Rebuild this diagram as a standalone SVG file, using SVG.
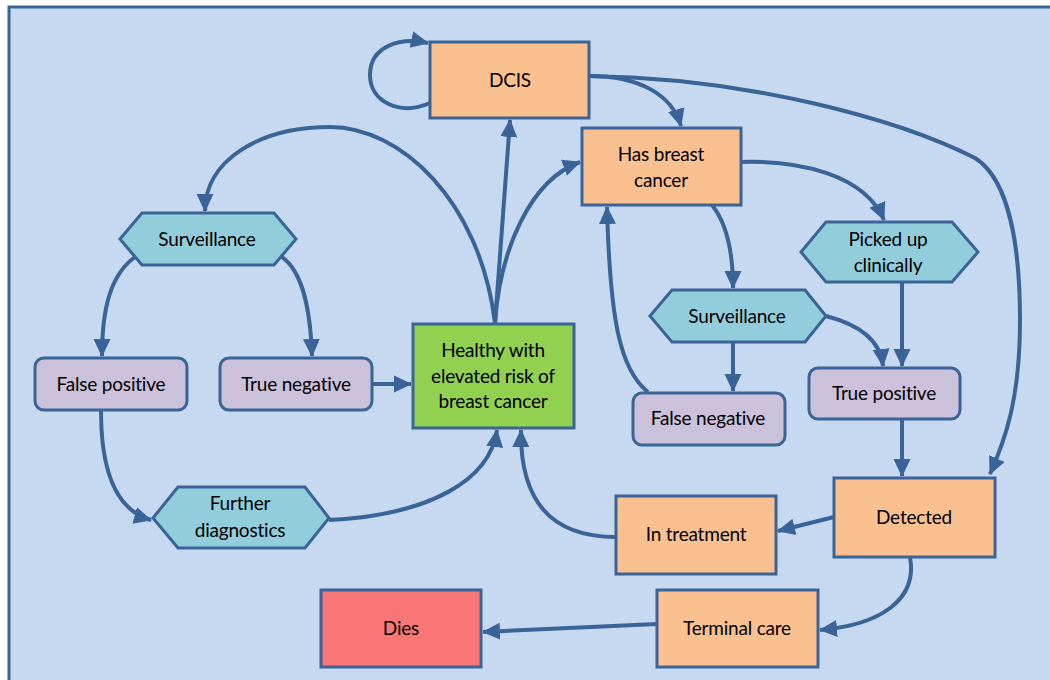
<svg xmlns="http://www.w3.org/2000/svg" width="1050" height="680" viewBox="0 0 1050 680">
  <style>
    .box { stroke: #3a6497; stroke-width: 3; }
    .state { fill: #fac090; }
    .test { fill: #92cddc; }
    .result { fill: #ccc1da; }
    .healthy { fill: #92d050; }
    .dies { fill: #f87676; }
    .lbl { font-family: Lato, "Open Sans", "Liberation Sans", sans-serif; font-size: 19px; fill: #000; text-anchor: middle; letter-spacing: -0.2px; }
    .edge { fill: none; stroke: #3a6497; stroke-width: 4; marker-end: url(#arrow); }
  </style>
  <defs>
    <marker id="arrow" markerUnits="userSpaceOnUse" markerWidth="19" markerHeight="19" viewBox="0 0 19 19" refX="17" refY="9.5" orient="auto">
      <path d="M0,1 L18,9.5 L0,18 Z" fill="#3a6497"/>
    </marker>
  </defs>

  <!-- frame -->
  <rect x="9" y="7" width="1100" height="700" fill="#c6d9f0" stroke="#3a6497" stroke-width="3"/>

  <!-- connectors -->
  <g id="connectors">
    <path class="edge" d="M430,103 C 400,116 370,102 370,75 C 370,46 400,37 428,43"/>
    <path class="edge" d="M495,323 L510,120"/>
    <path class="edge" d="M495,323 C 500,250 530,180 580,162"/>
    <path class="edge" d="M495,323 C 480,200 400,127 330,127 C 260,127 205,160 205,211"/>
    <path class="edge" d="M589,76 C 640,76 672,95 681,126"/>
    <path class="edge" d="M589,76 C 750,78 900,120 975,158 C 1010,180 1020,250 1020,320 C 1020,400 1005,440 990,474"/>
    <path class="edge" d="M741,162 C 800,160 865,175 884,220"/>
    <path class="edge" d="M712,205 C 728,225 733,255 733,288"/>
    <path class="edge" d="M648,392 C 620,370 610,320 607,207"/>
    <path class="edge" d="M733,342 L733,391"/>
    <path class="edge" d="M826,316 C 860,325 880,340 883,366"/>
    <path class="edge" d="M902,282 L902,366"/>
    <path class="edge" d="M902,419 L902,476"/>
    <path class="edge" d="M834,517 L778,531"/>
    <path class="edge" d="M616,537 C 550,537 520,500 521,430"/>
    <path class="edge" d="M910,557 C 918,600 880,625 820,630"/>
    <path class="edge" d="M657,624 L483,632"/>
    <path class="edge" d="M372,384 L411,384"/>
    <path class="edge" d="M135,257 C 110,275 102,310 102,356"/>
    <path class="edge" d="M282,257 C 300,270 310,300 312,356"/>
    <path class="edge" d="M101,411 C 101,470 115,510 151,520"/>
    <path class="edge" d="M329,520 C 430,515 490,480 497,430"/>
  </g>

  <g id="dcis">
    <rect class="box state" x="430" y="42" width="159" height="76"/>
    <text class="lbl" x="510" y="87">DCIS</text>
  </g>
  <g id="has-cancer">
    <rect class="box state" x="582" y="128" width="159" height="77"/>
    <text class="lbl" x="661" y="161">Has breast</text>
    <text class="lbl" x="661" y="187">cancer</text>
  </g>
  <g id="surveillance-healthy">
    <polygon class="box test" points="120,239 142,213 274,213 296,239 274,265 142,265"/>
    <text class="lbl" x="207" y="246">Surveillance</text>
  </g>
  <g id="false-positive">
    <rect class="box result" x="35" y="358" width="152" height="52" rx="9"/>
    <text class="lbl" x="111" y="391">False positive</text>
  </g>
  <g id="true-negative">
    <rect class="box result" x="220" y="358" width="152" height="52" rx="9"/>
    <text class="lbl" x="296" y="391">True negative</text>
  </g>
  <g id="healthy">
    <rect class="box healthy" x="413" y="324" width="161" height="104"/>
    <text class="lbl" x="493" y="357">Healthy with</text>
    <text class="lbl" x="493" y="383">elevated risk of</text>
    <text class="lbl" x="493" y="408">breast cancer</text>
  </g>
  <g id="further-diagnostics">
    <polygon class="box test" points="153,518 178,487 305,487 329,518 305,548 178,548"/>
    <text class="lbl" x="240" y="510">Further</text>
    <text class="lbl" x="240" y="537">diagnostics</text>
  </g>
  <g id="dies">
    <rect class="box dies" x="321" y="590" width="160" height="77"/>
    <text class="lbl" x="401" y="635">Dies</text>
  </g>
  <g id="surveillance-cancer">
    <polygon class="box test" points="650,316 672,290 805,290 826,316 805,342 672,342"/>
    <text class="lbl" x="737" y="323">Surveillance</text>
  </g>
  <g id="picked-up">
    <polygon class="box test" points="801,252 826,222 952,222 978,252 952,282 826,282"/>
    <text class="lbl" x="888" y="246">Picked up</text>
    <text class="lbl" x="888" y="272">clinically</text>
  </g>
  <g id="false-negative">
    <rect class="box result" x="633" y="393" width="152" height="52" rx="9"/>
    <text class="lbl" x="708" y="425">False negative</text>
  </g>
  <g id="true-positive">
    <rect class="box result" x="809" y="368" width="151" height="51" rx="9"/>
    <text class="lbl" x="884" y="400">True positive</text>
  </g>
  <g id="detected">
    <rect class="box state" x="834" y="478" width="161" height="79"/>
    <text class="lbl" x="914" y="524">Detected</text>
  </g>
  <g id="in-treatment">
    <rect class="box state" x="616" y="496" width="160" height="78"/>
    <text class="lbl" x="696" y="541">In treatment</text>
  </g>
  <g id="terminal-care">
    <rect class="box state" x="657" y="590" width="161" height="77"/>
    <text class="lbl" x="737" y="635">Terminal care</text>
  </g>
</svg>
